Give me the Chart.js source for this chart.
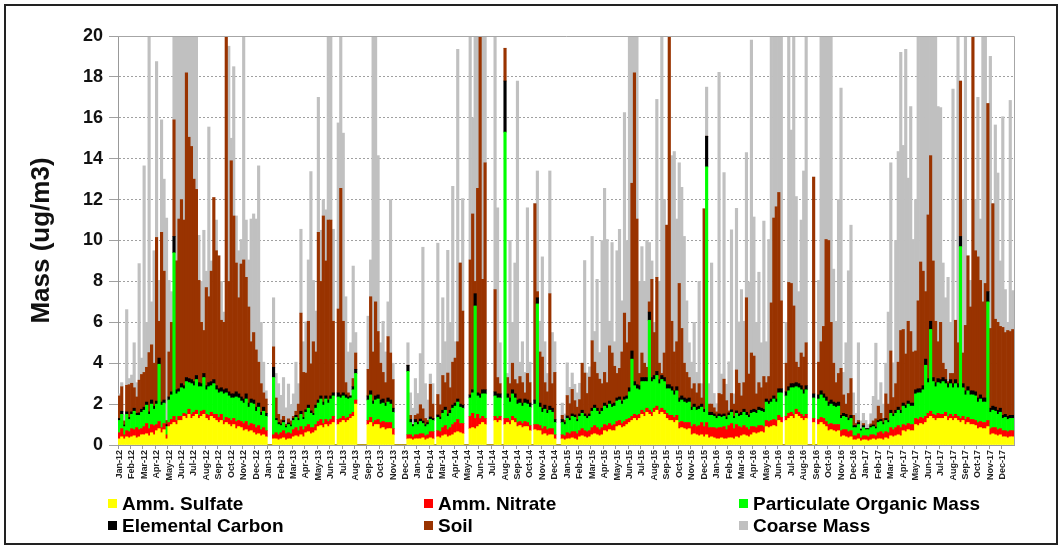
<!DOCTYPE html>
<html>
<head>
<meta charset="utf-8">
<title>Mass (ug/m3)</title>
<script src="https://cdn.jsdelivr.net/npm/chart.js@4.4.1/dist/chart.umd.min.js"></script>
<style>
  html, body { margin: 0; padding: 0; background: #fff; }
  #wrap { position: relative; width: 1062px; height: 550px; font-family: "Liberation Sans", Arial, sans-serif; }
  #frame { position: absolute; left: 4px; top: 4px; width: 1050px; height: 537px; border: 2px solid #222; pointer-events: none; }
  #chart { position: absolute; left: 0; top: 0; }
  .leg { position: absolute; font-weight: bold; font-size: 19px; line-height: 20px; color: #000; white-space: nowrap; }
  .leg i { display: inline-block; width: 9px; height: 9px; margin-right: 5px; vertical-align: 2px; }
</style>
</head>
<body>
<div id="wrap">
  <canvas id="chart" width="1062" height="550"></canvas>
  <div id="frame"></div>
</div>
<script>
// months on the x axis, 5 samples per month
const monthNames = ['Jan', 'Feb', 'Mar', 'Apr', 'May', 'Jun', 'Jul', 'Aug', 'Sep', 'Oct', 'Nov', 'Dec'];
const years = ['12', '13', '14', '15', '16', '17'];
const SAMPLES_PER_MONTH = 5;
const yTicks = [0, 2, 4, 6, 8, 10, 12, 14, 16, 18, 20];

// Amm. Sulfate
const sulfate = [
  0.3,0.4,0.3,0.4,0.35, 0.4,0.45,0.35,0.4,0.5, 0.5,0.55,0.45,0.6,0.5, 0.7,0.8,0.6,0.75,0.3, 0.9,1.0,1.1,1.0,1.2, 1.2,1.4,1.3,1.5,1.3,
  1.4,1.5,1.3,1.4,1.5, 1.3,1.2,1.4,1.3,1.2, 1.1,1.2,1.0,1.1,1.0, 0.9,1.0,0.8,0.9,0.85, 0.7,0.75,0.65,0.7,0.6, 0.5,0.55,0.45,0.5,0.4,
  0,0,0.3,0.3,0.25, 0.3,0.35,0.25,0.3,0.3, 0.4,0.45,0.4,0.5,0.4, 0.6,0.65,0.55,0.6,0.7, 0.9,0.95,0.85,1.0,0.9, 1.0,1.1,0,1.0,1.1,
  1.2,1.1,1.2,1.3,1.4, 2.0,0,0,0,0, 1.0,1.1,0.9,1.0,1.0, 0.8,0.85,0.75,0.8,0.8, 0.5,0,0,0,0, 0,0.3,0.3,0.25,0.3,
  0.3,0.3,0.35,0.25,0.3, 0.35,0.3,0,0.4,0.35, 0.45,0.5,0.4,0.45,0.5, 0.6,0.65,0.6,0.55,0, 0,0.8,0.85,0.8,0.9, 1.0,1.1,1.0,0,0,
  0,1.2,1.1,1.2,0, 1.0,1.1,1.0,1.2,1.1, 0.9,0.95,0.85,0.9,0.9, 0.7,0,0.75,0.7,0.7, 0.5,0.55,0.45,0.5,0.5, 0.3,0,0,0.3,0.25,
  0.3,0.3,0.35,0.3,0.25, 0.4,0.45,0.4,0.35,0.4, 0.5,0.55,0.5,0.45,0.5, 0.7,0.65,0.75,0.7,0.7, 0.9,0.95,0.85,0.9,1.0, 1.1,1.2,1.3,1.2,1.3,
  1.5,1.4,1.6,1.5,1.4, 1.6,1.7,1.5,1.6,1.5, 1.3,1.2,1.2,1.1,1.2, 0.8,0.85,0.8,0.75,0.8, 0.5,0.55,0.5,0.45,0.5, 0.4,0.5,0.35,0.4,0.35,
  0.3,0.3,0.35,0.3,0.3, 0.35,0.35,0.3,0.4,0.35, 0.45,0.5,0.45,0.4,0.5, 0.6,0.55,0.6,0.65,0.6, 0.9,0.85,0.9,0.95,0.9, 1.2,1.1,0,1.2,1.3,
  1.4,1.3,1.5,1.4,1.3, 1.2,1.3,0,0,1.1, 0,1.0,1.1,1.0,0.9, 0.7,0.75,0.7,0.65,0.7, 0.4,0.45,0.4,0.35,0.4, 0.25,0.25,0.3,0.2,0.25,
  0.25,0.2,0.25,0.3,0.25, 0.3,0.3,0.25,0.35,0.3, 0.45,0.4,0.45,0.5,0.45, 0.7,0.65,0.75,0.7,0.7, 1.0,0.95,1.05,1.0,1.1, 1.3,1.4,1.3,1.2,1.3,
  1.3,1.3,1.4,1.2,1.3, 1.2,1.3,1.2,1.1,1.2, 1.0,1.1,1.0,1.0,0.95, 0.8,0.85,0.8,0.8,0.9, 0.5,0.55,0.5,0.45,0.5, 0.4,0.4,0.35,0.4,0.4
];

// Amm. Nitrate
const nitrate = [
  0.3,0.4,0.2,0.3,0.3, 0.4,0.3,0.5,0.35,0.3, 0.4,0.5,0.35,0.4,0.45, 0.3,0.35,0.25,0.3,0.2, 0.2,0.25,0.3,0.2,0.2, 0.2,0.15,0.2,0.25,0.2,
  0.2,0.2,0.15,0.25,0.2, 0.2,0.25,0.2,0.2,0.3, 0.25,0.3,0.2,0.25,0.3, 0.3,0.3,0.35,0.3,0.3, 0.35,0.4,0.3,0.35,0.4, 0.35,0.4,0.3,0.35,0.3,
  0,0,0.2,0.3,0.25, 0.3,0.35,0.3,0.3,0.25, 0.35,0.4,0.3,0.4,0.35, 0.3,0.35,0.3,0.25,0.3, 0.25,0.3,0.2,0.25,0.25, 0.25,0.3,0,0.25,0.2,
  0.2,0.2,0.15,0.2,0.2, 0.2,0,0,0,0, 0.2,0.25,0.2,0.2,0.25, 0.3,0.3,0.35,0.3,0.3, 0.3,0,0,0,0, 0,0.2,0.2,0.15,0.2,
  0.2,0.25,0.2,0.2,0.2, 0.3,0.35,0,0.3,0.3, 0.4,0.45,0.35,0.4,0.5, 0.5,0.6,0.45,0.5,0, 0,0.6,0.7,0.5,0.6, 0.3,0.3,0.3,0,0,
  0,0.2,0.2,0.2,0, 0.3,0.2,0.2,0.2,0.2, 0.2,0.2,0.2,0.25,0.2, 0.25,0,0.25,0.3,0.25, 0.3,0.35,0.3,0.3,0.3, 0.2,0,0,0.2,0.2,
  0.3,0.25,0.3,0.35,0.3, 0.3,0.35,0.3,0.3,0.3, 0.35,0.4,0.35,0.3,0.35, 0.3,0.3,0.3,0.25,0.3, 0.25,0.25,0.2,0.25,0.25, 0.2,0.2,0.2,0.25,0.2,
  0.2,0.2,0.2,0.2,0.2, 0.2,0.2,0.2,0.2,0.2, 0.25,0.25,0.25,0.25,0.25, 0.3,0.3,0.3,0.35,0.3, 0.4,0.45,0.4,0.5,0.6, 0.5,0.6,0.5,0.45,0.5,
  0.5,0.55,0.5,0.6,0.45, 0.6,0.7,0.5,0.6,0.55, 0.4,0.45,0.4,0.35,0.4, 0.3,0.3,0.35,0.3,0.3, 0.3,0.3,0.3,0.3,0.3, 0.25,0.25,0,0.2,0.25,
  0.2,0.2,0.25,0.2,0.2, 0.2,0.2,0,0,0.2, 0,0.25,0.25,0.3,0.25, 0.3,0.3,0.3,0.35,0.3, 0.3,0.3,0.35,0.3,0.3, 0.2,0.2,0.25,0.15,0.2,
  0.2,0.2,0.25,0.2,0.2, 0.3,0.35,0.3,0.3,0.3, 0.4,0.35,0.4,0.45,0.4, 0.3,0.3,0.3,0.3,0.3, 0.3,0.3,0.3,0.3,0.3, 0.25,0.25,0.2,0.25,0.25,
  0.2,0.2,0.2,0.2,0.2, 0.2,0.2,0.2,0.2,0.2, 0.25,0.25,0.25,0.25,0.25, 0.3,0.3,0.3,0.3,0.3, 0.3,0.3,0.35,0.3,0.3, 0.3,0.3,0.3,0.3,0.3
];

// Particulate Organic Mass
const pom = [
  0.6,0.7,0.4,0.8,0.6, 0.7,0.9,0.6,0.7,0.8, 0.8,0.9,0.7,1.0,0.8, 1.0,2.8,1.1,1.0,0.4, 1.1,1.2,8.0,1.3,1.2, 1.4,1.2,1.6,1.3,1.5,
  1.3,1.5,1.4,1.2,1.6, 1.2,1.4,1.3,1.5,1.2, 1.2,1.1,1.3,1.2,1.1, 1.1,1.0,1.2,1.1,1.0, 1.0,1.1,0.9,1.0,1.0, 0.8,0.9,0.7,0.8,0.7,
  0,0,2.8,0.6,0.5, 0.35,0.4,0.3,0.4,0.35, 0.45,0.5,0.5,0.6,0.5, 0.7,0.8,0.7,0.6,0.8, 0.9,1.0,0.9,1.0,0.9, 1.0,1.0,0,1.1,1.0,
  1.0,1.0,0.9,0.8,1.1, 1.3,0,0,0,0, 1.0,1.1,0.9,1.0,1.0, 0.9,0.9,0.8,1.0,0.9, 0.8,0,0,0,0, 0,3.1,0.6,0.5,0.6,
  0.5,0.6,0.5,0.45,0.5, 0.6,0.55,0,0.65,0.6, 0.7,0.75,0.65,0.7,0.8, 0.8,0.85,0.8,0.75,0, 0,0.9,1.0,5.5,0.9, 1.0,1.1,1.2,0,0,
  0,1.0,1.0,0.9,0, 14.0,1.0,0.9,1.1,1.0, 0.9,0.9,0.85,0.9,0.9, 0.9,0,1.0,5.9,0.9, 0.8,0.85,0.8,0.9,0.8, 0.6,0,0,0.6,0.55,
  0.7,0.65,0.75,0.7,0.6, 0.7,0.75,0.7,0.65,0.7, 0.8,0.85,0.8,0.75,0.8, 0.9,0.85,0.95,0.9,0.9, 1.0,1.0,0.95,1.05,1.0, 1.3,2.8,1.4,1.3,1.2,
  1.4,1.5,1.3,4.4,1.5, 1.4,1.5,1.3,1.4,1.4, 1.2,1.3,1.2,1.1,1.2, 1.0,1.05,1.0,0.95,1.0, 0.8,0.85,0.8,0.8,0.75, 0.7,12.5,0.6,0.6,0.55,
  0.5,0.55,0.5,0.5,0.5, 0.5,0.55,0.5,0.55,0.5, 0.6,0.65,0.6,0.6,0.65, 0.7,0.7,0.75,0.7,0.7, 0.9,0.85,0.9,1.0,0.9, 1.1,1.2,0,1.0,1.1,
  1.2,1.3,1.1,1.2,1.2, 1.1,1.2,0,0,1.0, 0,1.0,1.1,1.0,1.0, 0.9,0.95,0.9,0.85,0.9, 0.6,0.65,0.6,0.55,0.6, 0.4,0.4,0.45,0.35,0.4,
  0.3,0.35,0.35,0.4,0.35, 0.5,0.5,0.45,0.55,0.5, 0.7,0.65,0.7,0.75,0.7, 0.9,0.85,0.95,0.9,0.9, 1.2,1.3,1.2,1.4,2.5, 1.5,4.0,1.6,1.4,1.5,
  1.5,1.6,1.4,1.4,1.5, 1.4,1.5,1.4,8.4,1.4, 1.2,1.3,1.2,1.2,1.2, 1.0,1.1,1.0,1.0,5.8, 0.8,0.85,0.8,0.75,0.8, 0.6,0.65,0.6,0.6,0.6
];

// Elemental Carbon
const elemCarbon = [
  0.1,0.15,0.08,0.12,0.1, 0.12,0.15,0.1,0.12,0.15, 0.15,0.15,0.12,0.2,0.15, 0.15,0.3,0.15,0.15,0.1, 0.15,0.15,0.8,0.2,0.15, 0.2,0.15,0.2,0.2,0.2,
  0.2,0.2,0.2,0.15,0.2, 0.2,0.2,0.2,0.2,0.2, 0.2,0.2,0.2,0.2,0.2, 0.2,0.2,0.25,0.2,0.2, 0.2,0.25,0.2,0.2,0.2, 0.2,0.2,0.15,0.2,0.15,
  0,0,0.5,0.1,0.1, 0.08,0.1,0.07,0.08,0.08, 0.1,0.1,0.1,0.15,0.1, 0.12,0.15,0.12,0.1,0.15, 0.15,0.15,0.15,0.15,0.15, 0.15,0.15,0,0.2,0.15,
  0.15,0.15,0.1,0.1,0.15, 0.2,0,0,0,0, 0.2,0.2,0.15,0.2,0.2, 0.2,0.2,0.15,0.2,0.2, 0.2,0,0,0,0, 0,0.3,0.15,0.1,0.15,
  0.12,0.12,0.12,0.1,0.1, 0.12,0.1,0,0.12,0.12, 0.15,0.15,0.12,0.15,0.15, 0.15,0.15,0.15,0.15,0, 0,0.15,0.15,0.6,0.15, 0.2,0.2,0.2,0,0,
  0,0.2,0.2,0.2,0, 2.5,0.2,0.2,0.2,0.2, 0.2,0.2,0.15,0.2,0.2, 0.2,0,0.2,0.3,0.2, 0.2,0.2,0.15,0.2,0.2, 0.15,0,0,0.15,0.12,
  0.12,0.12,0.12,0.12,0.1, 0.12,0.15,0.12,0.12,0.12, 0.15,0.15,0.15,0.12,0.15, 0.15,0.15,0.15,0.15,0.15, 0.15,0.15,0.15,0.15,0.15, 0.2,0.4,0.2,0.2,0.2,
  0.2,0.2,0.2,0.4,0.2, 0.2,0.2,0.2,0.2,0.2, 0.2,0.2,0.2,0.2,0.2, 0.2,0.2,0.2,0.2,0.2, 0.15,0.15,0.15,0.15,0.15, 0.15,1.5,0.15,0.15,0.12,
  0.12,0.12,0.12,0.12,0.12, 0.12,0.12,0.1,0.12,0.12, 0.15,0.15,0.15,0.12,0.15, 0.15,0.15,0.15,0.15,0.15, 0.15,0.15,0.15,0.15,0.15, 0.2,0.2,0,0.2,0.2,
  0.2,0.2,0.2,0.2,0.2, 0.2,0.2,0,0,0.2, 0,0.2,0.2,0.2,0.2, 0.2,0.2,0.2,0.2,0.2, 0.15,0.15,0.15,0.12,0.15, 0.1,0.1,0.1,0.08,0.1,
  0.05,0.05,0.08,0.08,0.08, 0.1,0.1,0.1,0.1,0.1, 0.15,0.12,0.15,0.15,0.15, 0.15,0.15,0.15,0.15,0.15, 0.2,0.2,0.2,0.2,0.3, 0.2,0.4,0.2,0.2,0.2,
  0.2,0.2,0.2,0.2,0.2, 0.2,0.2,0.2,0.5,0.2, 0.2,0.2,0.2,0.2,0.2, 0.2,0.2,0.2,0.2,0.5, 0.2,0.2,0.2,0.2,0.2, 0.15,0.15,0.15,0.15,0.15
];

// Soil
const soil = [
  1.1,1.2,0.2,1.3,1.6, 1.4,1.0,0.8,1.6,1.7, 1.7,1.7,2.9,2.7,2.1, 8.0,1.8,8.3,6.3,0.2, 2.2,3.4,5.7,6.3,8.3, 9.0,8.1,14.9,11.8,11.4,
  9.9,9.1,5.0,3.0,2.1, 4.8,4.2,5.4,8.9,6.6, 6.5,3.3,3.3,17.3,5.4, 11.4,8.7,6.3,4.7,6.5, 6.8,5.7,4.7,2.8,3.3, 2.8,2.0,1.4,0.7,0.7,
  0,0,1.0,1.0,0.4, 0.2,0.2,0.1,0.2,0.2, 0.1,0.2,0.7,4.8,2.2, 1.8,4.1,2.3,3.5,2.6, 8.2,5.6,9.1,6.6,8.8, 8.6,3.5,0,4.1,10.1,
  3.5,0.6,0.2,0,0.4, 0.8,0,0,0,0, 1.3,4.6,2.4,4.6,3.1, 1.8,1.3,1.0,3.0,2.3, 1.4,0,0,0,0, 0,0,0.2,0,0.2,
  0.4,0.7,0.6,0.3,0.1, 1.6,0.7,0,1.0,0.6, 1.7,1.2,2.0,1.1,2.1, 2.2,2.8,6.9,4.6,0, 0,6.6,8.6,0.6,10.0, 17.5,5.4,11.1,0,0,
  0,5.0,0.8,0.5,0, 1.6,0.8,0.7,1.3,0.7, 0.8,1.1,1.0,0.3,1.3, 1.0,0,9.6,0.3,2.5, 2.5,1.1,0.9,5.5,1.2, 2.3,0,0,0.2,0.1,
  1.0,0.7,1.2,0.7,0.6, 0.7,2.3,2.0,1.1,1.8, 3.3,2.1,1.7,1.6,1.2, 1.5,1.1,2.7,2.5,1.8, 1.2,1.4,2.4,4.1,2.6, 3.2,8.2,15.1,8.1,0.6,
  1.2,0.7,0.5,0.5,4.8, 2.1,4.6,0.8,0.1,1.2, 7.8,17.1,3.2,1.9,2.2, 5.6,3.3,1.7,1.3,1.0, 0.9,1.0,0.7,1.1,0.3, 9.8,0,0.4,0.4,0.3,
  0.2,1.0,1.0,1.7,0.8, 0.1,0.8,0.6,2.0,1.5, 0.8,1.3,5.6,2.0,2.8, 2.6,0.8,1.2,1.0,1.6, 0.8,1.2,4.7,8.7,9.4, 9.6,4.3,0,1.4,5.1,
  4.9,3.8,1.0,0.8,1.6, 1.6,2.1,0,0,10.6, 0,1.6,2.4,3.3,7.7, 7.9,3.8,1.9,1.0,1.4, 2.3,0.9,0.5,1.2,1.8, 0.5,0.1,0.1,0,0.1,
  0,0,0.1,0.2,0.4, 0.7,0.3,0.2,1.2,0.8, 2.9,0.8,1.3,2.2,3.9, 3.6,2.5,3.9,3.5,2.5, 1.9,4.3,6.2,5.6,3.3, 8.0,8.1,5.7,3.0,1.8,
  2.8,0.7,0.5,0.1,0.3, 0.5,2.9,2.0,7.6,1.5, 3.2,6.4,4.1,17.4,6.9, 6.9,5.6,4.7,5.6,9.2, 3.9,9.9,4.3,4.3,4.0, 4.3,4.0,4.2,4.1,4.2
];

// Coarse Mass
const coarse = [
  0.1,0.2,0.3,3.7,0.3, 0.4,2.2,0.7,5.7,0.8, 10.1,2.2,15.5,2.1,5.5, 8.6,2.0,5.5,4.5,9.9, 3.5,1.5,4.1,11.0,9.0, 8.0,9.0,1.8,5.0,5.4,
  7.0,7.5,2.2,2.0,4.9, 0.8,8.3,0.5,0,1.5, 0,1.9,0.5,0,11.5, 1.1,7.3,2.3,2.3,1.2, 11.0,2.8,2.3,6.0,5.8, 6.4,9.6,3.0,1.5,0.4,
  0,0,2.4,1.2,1.5, 1.2,1.9,0.8,1.7,0.8, 1.1,2.4,1.0,4.1,1.5, 2.5,3.0,9.4,3.0,2.0, 6.6,2.5,0.8,2.5,9.0, 9.0,4.5,0,9.1,7.5,
  9.2,4.2,2.0,2.6,5.5, 1.0,0,0,0,0, 2.6,1.8,15.5,13.0,8.6, 1.0,2.5,1.5,1.7,7.5, 0.8,0,0,0,0, 0,1.1,1.1,0.8,1.8,
  1.0,2.5,7.9,1.7,1.0, 0.5,1.0,0,7.4,2.0, 3.8,2.0,6.0,3.2,8.6, 0.8,14.3,0,5.5,0, 0,11.0,4.7,12.0,7.5, 0.5,11.9,6.2,0,0,
  0,12.4,8.3,2.0,0, 0,0.2,7.0,2.0,5.7, 14.8,0.7,2.0,1.0,8.1, 1.0,0,0,5.9,1.5, 4.9,2.0,0.9,6.0,2.5, 1.5,0,0,0.6,0.3,
  1.6,0.8,0.8,0.8,0.7, 0.8,0,5.5,1.0,0.5, 5.1,1.5,4.6,1.3,7.0, 9.0,7.0,1.2,5.4,1.2, 6.0,6.8,2.5,9.8,5.0, 14.0,7.2,1.8,9.0,4.5,
  5.2,4.0,6.2,2.9,0.9, 0.5,8.7,4.0,16.5,7.5, 0,0,8.1,9.8,6.0, 5.9,6.9,6.2,3.5,1.7, 1.3,3.0,1.0,5.0,0.7, 0,2.4,1.0,6.9,0.7,
  0.4,15.7,1.0,10.1,0.8, 2.4,8.0,0.5,7.9,3.0, 5.2,3.0,7.1,4.5,15.3, 6.8,3.5,5.4,2.2,7.6, 2.0,6.7,13.1,8.9,8.4, 7.7,13.0,0,2.0,12.1,
  7.5,13.2,8.1,3.7,6.5, 9.1,15.0,0,0,0, 0,4.0,15.0,14.2,10.0, 10.0,14.0,4.6,3.0,8.5, 13.7,1.1,3.0,6.0,7.5, 1.1,0.5,3.8,0.4,0.5,
  0.4,0.2,0.5,1.2,3.7, 0.3,1.5,0.7,1.5,4.5, 9.2,1.7,7.0,10.3,13.6, 9.0,14.9,7.0,11.0,5.5, 7.4,13.0,11.1,11.5,12.5, 8.8,5.9,11.0,14.0,11.5,
  10.5,4.9,3.5,5.1,2.5, 13.9,0,15.0,0,7.5, 14.2,0,1.3,0,2.5, 7.8,3.0,13.0,12.1,0, 13.3,0,9.5,7.3,3.2, 10.3,2.1,0.4,11.3,1.9
];

const seriesNames = ['Amm. Sulfate', 'Amm. Nitrate', 'Particulate Organic Mass', 'Elemental Carbon', 'Soil', 'Coarse Mass'];
const seriesColors = ['#FFFF00', '#FF0000', '#00FF00', '#000000', '#993300', '#C0C0C0'];
const seriesData = [sulfate, nitrate, pom, elemCarbon, soil, coarse];

// one label per sample, month name repeated
const monthLabels = [];
years.forEach(y => monthNames.forEach(m => monthLabels.push(m + '-' + y)));
const sampleLabels = [];
monthLabels.forEach(lbl => {
    for (let k = 0; k < SAMPLES_PER_MONTH; k++) sampleLabels.push(lbl);
});

const FONT = '"Liberation Sans", Arial, sans-serif';

// plot frame on the right side
const framePlugin = {
    id: 'frame',
    afterDatasetsDraw(chart) {
        const { ctx, chartArea: a } = chart;
        ctx.save();
        ctx.strokeStyle = '#a6a6a6';
        ctx.lineWidth = 1;
        ctx.beginPath();
        ctx.moveTo(a.left, a.top + 0.5);
        ctx.lineTo(a.right + 0.5, a.top + 0.5);
        ctx.lineTo(a.right + 0.5, a.bottom);
        ctx.stroke();
        ctx.restore();
    }
};

new Chart(document.getElementById('chart'), {
    type: 'bar',
    data: {
        labels: sampleLabels,
        datasets: seriesNames.map((name, i) => ({
            label: name,
            data: seriesData[i],
            backgroundColor: seriesColors[i],
            borderWidth: 0,
            barPercentage: 1,
            categoryPercentage: 1
        }))
    },
    options: {
        responsive: false,
        animation: false,
        layout: { padding: { top: 36, right: 48, bottom: 65, left: 0 } },
        plugins: {
            legend: { display: false },
            tooltip: { enabled: false }
        },
        scales: {
            x: {
                stacked: true,
                afterFit: s => { s.height = 40; },
                grid: {
                    offset: true,
                    drawOnChartArea: false,
                    tickLength: 4,
                    color: c => (c.index % SAMPLES_PER_MONTH === 0 ? '#999' : 'rgba(0,0,0,0)')
                },
                border: { color: '#999' },
                ticks: {
                    autoSkip: false,
                    minRotation: 90,
                    maxRotation: 90,
                    padding: 1,
                    color: '#222',
                    font: { family: FONT, size: 9, weight: 'bold' },
                    callback: function (v, i) {
                        return i % SAMPLES_PER_MONTH === 0 ? this.getLabelForValue(v) : '';
                    }
                }
            },
            y: {
                stacked: true,
                min: 0,
                max: 20,
                afterFit: s => { s.width = 118; },
                afterBuildTicks: s => { s.ticks = yTicks.map(v => ({ value: v })); },
                grid: { color: '#a0a0a0', tickLength: 9 },
                border: { color: '#999', dash: [2, 2] },
                ticks: {
                    padding: 6,
                    color: '#111',
                    font: { family: FONT, size: 18, weight: 'bold' }
                },
                title: {
                    display: true,
                    text: 'Mass (ug/m3)',
                    color: '#111',
                    padding: { top: 26, bottom: 0 },
                    font: { family: FONT, size: 26, weight: 'bold' }
                }
            }
        }
    },
    plugins: [framePlugin]
});

// legend in 3 columns x 2 rows, like the original
const wrap = document.getElementById('wrap');
const legLeft = [108, 424, 739];
const legTop = [494, 516];
seriesNames.forEach((name, i) => {
    const d = document.createElement('div');
    d.className = 'leg';
    d.style.left = legLeft[i % 3] + 'px';
    d.style.top = legTop[Math.floor(i / 3)] + 'px';
    d.innerHTML = '<i style="background:' + seriesColors[i] + '"></i>' + name;
    wrap.appendChild(d);
});
</script>
</body>
</html>
